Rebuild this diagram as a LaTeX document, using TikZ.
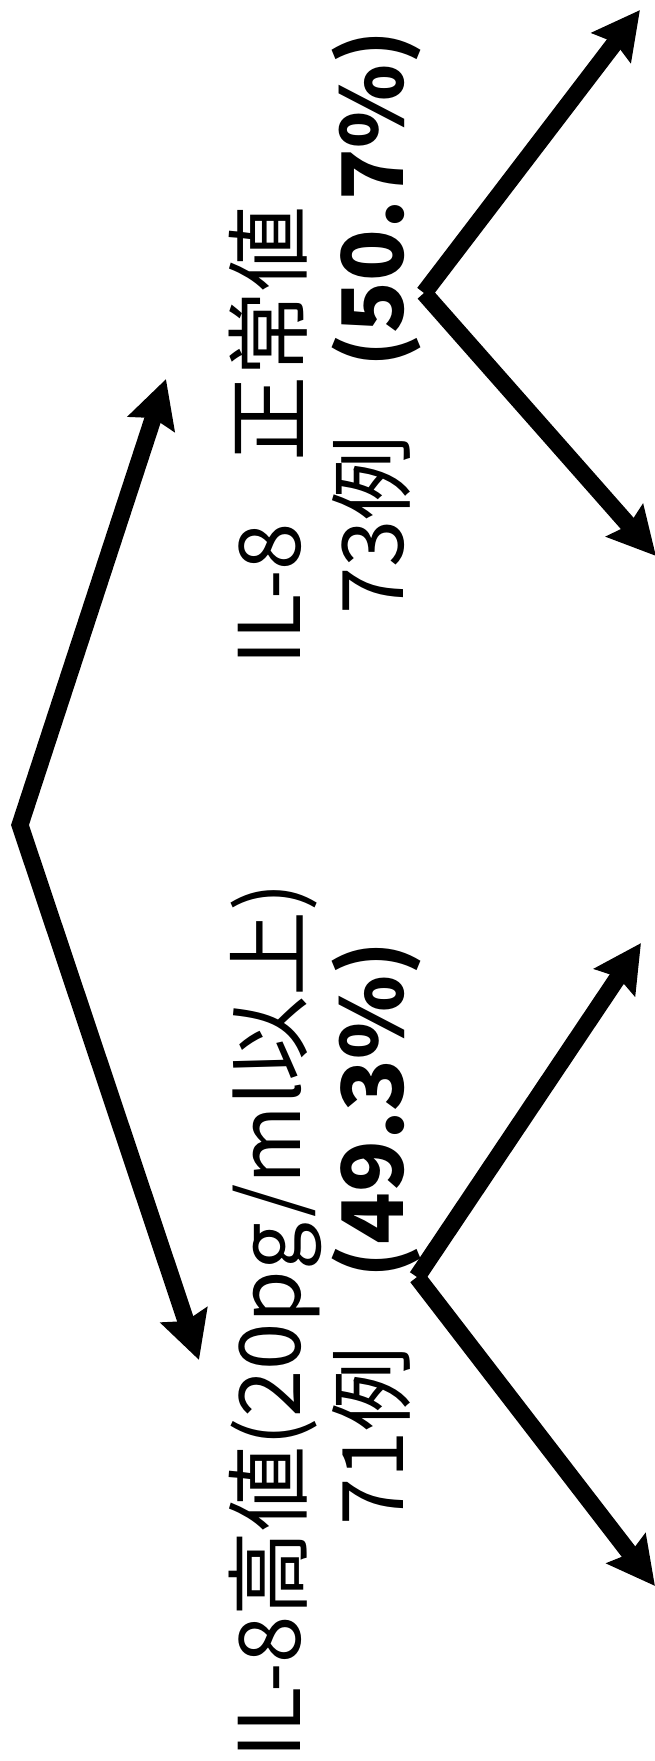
\documentclass[tikz,border=0pt]{standalone}
\usepackage{fontspec}
\newfontfamily\jp{Noto Sans CJK JP}
\usetikzlibrary{arrows.meta}
\begin{document}
\begin{tikzpicture}[x=1pt,y=-1pt,
  >={Stealth[length=47pt,width=48pt,inset=6pt]},
  branch/.style={line width=17pt, line cap=butt, line join=miter},
  lbl/.style={rotate=90, anchor=base west, inner sep=0pt, font=\jp\fontsize{85}{90}\selectfont}]
\useasboundingbox[fill=white] (0,0) rectangle (654,1761);
% vertices and tips
\coordinate (root) at (20,825);
\coordinate (hiTip) at (199,1360);
\coordinate (noTip) at (166,379);
\coordinate (no) at (424,293);
\coordinate (noA) at (640,10);
\coordinate (noB) at (656,556);
\coordinate (hi) at (417,1277);
\coordinate (hiA) at (641,943);
\coordinate (hiB) at (655,1586);
% connectors
\draw[branch,<->] (noTip) -- (root) -- (hiTip);
\draw[branch,->] (no) -- (noA);
\draw[branch,->] (no) -- (noB);
\draw[branch,->] (hi) -- (hiA);
\draw[branch,->] (hi) -- (hiB);
% labels
\node[lbl] (noL1) at (300,666) {IL-8\hspace{0.72em}正常値};
\node[lbl] (noL2) at (403,615) {73例\hspace{0.8em}{\bfseries (50.7\%)}};
\node[lbl] (hiL1) at (300,1759) {IL-8高値(20pg/ml以上)};
\node[lbl] (hiL2) at (403,1526) {71例\hspace{0.8em}{\bfseries (49.3\%)}};
\end{tikzpicture}
\end{document}
